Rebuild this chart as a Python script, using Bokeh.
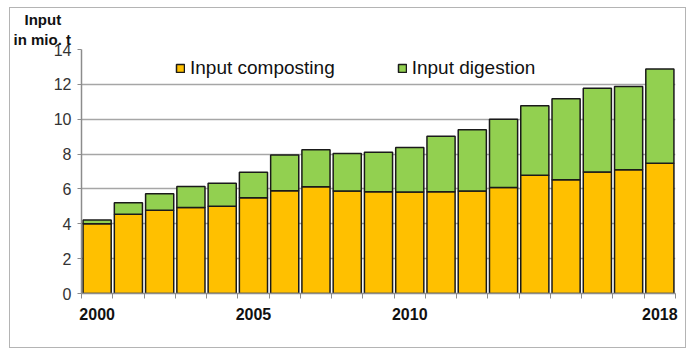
from bokeh.plotting import figure
from bokeh.models import ColumnDataSource, FixedTicker, Range1d, Legend, Title
from bokeh.layouts import column
from bokeh.embed import file_html
from bokeh.resources import INLINE

years = list(range(2000, 2019))
composting = [4.0, 4.55, 4.78, 4.94, 5.0, 5.5, 5.9, 6.12, 5.88, 5.84, 5.83, 5.84, 5.88, 6.08, 6.78, 6.53, 6.97, 7.1, 7.48]
total = [4.22, 5.2, 5.72, 6.14, 6.33, 6.95, 7.95, 8.25, 8.03, 8.1, 8.38, 9.02, 9.4, 10.0, 10.77, 11.17, 11.78, 11.88, 12.88]
digestion = [round(t - c, 2) for t, c in zip(total, composting)]
y_ticks = [0, 2, 4, 6, 8, 10, 12, 14]
x_label_years = [2000, 2005, 2010, 2018]
series_names = ["Input composting", "Input digestion"]
series_colors = ["#FFC000", "#92D050"]

src = ColumnDataSource(dict(year=years, composting=composting, digestion=digestion))

p = figure(width=675, height=339, output_backend="svg", toolbar_location=None, title=None,
           x_range=Range1d(1999.5, 2018.5), y_range=Range1d(0, 14),
           min_border_left=71, min_border_right=10, min_border_top=40, min_border_bottom=54)
p.outline_line_color = None
p.background_fill_color = "white"
p.border_fill_color = "white"

renderers = p.vbar_stack(["composting", "digestion"], x="year", width=0.9, source=src,
                         fill_color=series_colors, line_color="#1a1a1a", line_width=1.5)

legend = Legend(items=[(series_names[0], [renderers[0]]), (series_names[1], [renderers[1]])],
                orientation="horizontal", location=(94, 214), padding=0, margin=0,
                spacing=62, glyph_width=10, glyph_height=10, label_standoff=5,
                label_text_font="Liberation Sans", label_text_font_size="19px",
                label_text_color="#111111", label_height=20,
                border_line_color=None, background_fill_alpha=0)
p.add_layout(legend, "center")

# y axis
p.yaxis.ticker = FixedTicker(ticks=y_ticks)
p.yaxis.axis_line_color = "#8c8c8c"
p.yaxis.axis_line_width = 1.5
p.yaxis.major_tick_line_color = "#8c8c8c"
p.yaxis.major_tick_out = 4
p.yaxis.major_tick_in = 0
p.yaxis.minor_tick_line_color = None
p.yaxis.major_label_text_font = "Liberation Sans"
p.yaxis.major_label_text_font_size = "16px"
p.yaxis.major_label_text_color = "#333333"
p.yaxis.major_label_standoff = 6

# x axis
p.xaxis.ticker = FixedTicker(ticks=x_label_years, minor_ticks=[y - 0.5 for y in years] + [years[-1] + 0.5])
p.xaxis.axis_line_color = "#8c8c8c"
p.xaxis.axis_line_width = 1.5
p.xaxis.major_tick_line_color = None
p.xaxis.minor_tick_line_color = "#8c8c8c"
p.xaxis.minor_tick_out = 5
p.xaxis.minor_tick_in = 0
p.xaxis.major_label_text_font = "Liberation Sans"
p.xaxis.major_label_text_font_size = "16px"
p.xaxis.major_label_text_font_style = "bold"
p.xaxis.major_label_text_color = "#111111"
p.xaxis.major_label_standoff = 8

p.xgrid.grid_line_color = None
p.ygrid.ticker = FixedTicker(ticks=y_ticks)
p.ygrid.grid_line_color = "#a6a6a6"
p.ygrid.grid_line_width = 1.5

# y-axis title (two lines, stacked above the frame)
p.add_layout(Title(text="in mio. t", align="left", offset=-68, standoff=3,
                   text_font="Liberation Sans", text_font_size="15px", text_font_style="bold",
                   text_color="#111111"), "above")
p.add_layout(Title(text="Input", align="left", offset=-57, standoff=0,
                   text_font="Liberation Sans", text_font_size="15px", text_font_style="bold",
                   text_color="#111111"), "above")

layout = column(p, styles={"margin-left": "9px", "margin-top": "7px", "border": "1px solid #b4b4b4"})

open("out.html", "w").write(file_html(layout, INLINE))
